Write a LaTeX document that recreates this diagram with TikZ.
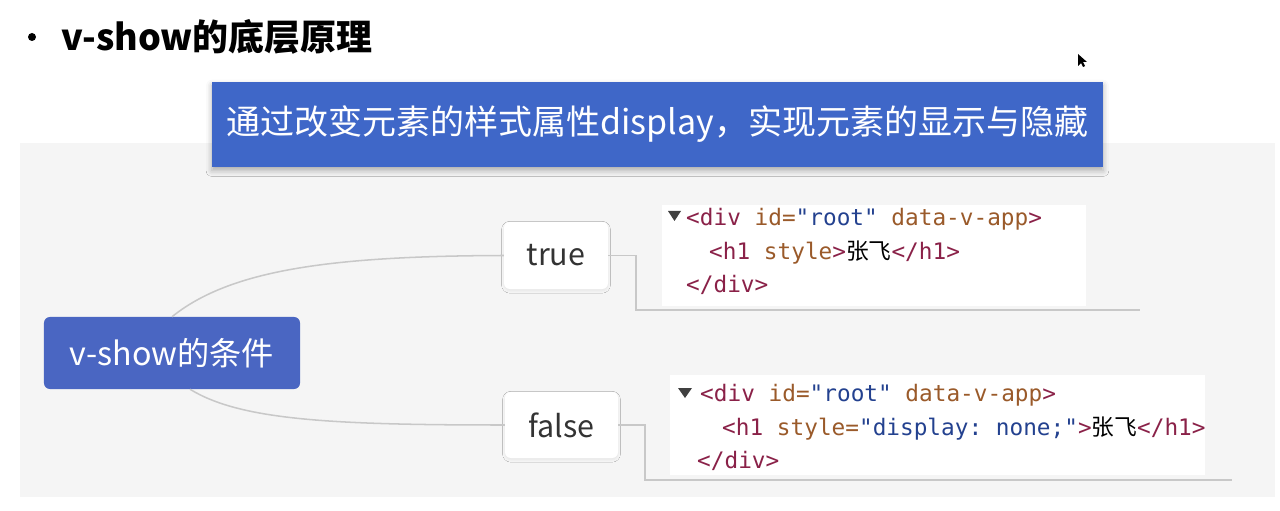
\documentclass[tikz,border=0pt]{standalone}
\usepackage{xcolor}
\usepackage{fontspec}
\setmainfont{Noto Sans CJK SC}
\newfontfamily\hanfont{Noto Sans CJK SC}
\newfontfamily\codefont{DejaVu Sans Mono}
\usetikzlibrary{shadows.blur}
\definecolor{panel}{HTML}{F5F5F5}
\definecolor{bandc}{HTML}{3F67C8}
\definecolor{nodec}{HTML}{4A66C2}
\definecolor{linkc}{HTML}{C8C8C8}
\definecolor{inkc}{HTML}{333333}
\definecolor{tagc}{HTML}{8A2148}
\definecolor{attrc}{HTML}{9A5A2A}
\definecolor{valc}{HTML}{23418F}
\newcommand{\tagtxt}[1]{\textcolor{tagc}{#1}}
\newcommand{\attrtxt}[1]{\textcolor{attrc}{#1}}
\newcommand{\valtxt}[1]{\textcolor{valc}{#1}}
\newcommand{\zf}{{\hanfont\textcolor{black}{张飞}}}

\begin{document}
\begin{tikzpicture}[x=0.03cm,y=-0.03cm,
  leaf/.style={fill=white,rounded corners=5pt,text=inkc,inner sep=0pt,
    font=\fontsize{26}{26}\selectfont,
    blur shadow={shadow xshift=0pt,shadow yshift=-1.5pt,shadow blur radius=2pt,shadow opacity=6}},
  codebox/.style={fill=white,inner sep=0pt},
  codetext/.style={inner sep=0pt,anchor=west,align=left,
    font=\codefont\frenchspacing\fontsize{19.4}{28.6}\selectfont},
  link/.style={draw=linkc,line width=1.3pt}]
  \useasboundingbox (0,0) rectangle (1280,511);
  % heading
  \fill[black] (32,37) circle (4);
  \node[anchor=west,inner sep=0pt,font=\bfseries\fontsize{30.7}{30.7}\selectfont] (head) at (61,37) {v-show的底层原理};
  % cursor
  \fill[black] (1078,54) -- (1078,66) -- (1081,63) -- (1083,67) -- (1085,66) -- (1083,62) -- (1087,62) -- cycle;
  % grey panel
  \fill[panel] (20,143) rectangle (1275,497);
  % banner
  \node[fill=bandc,text=white,minimum width=26.73cm,minimum height=2.55cm,inner sep=0pt,
    font=\fontsize{29}{29}\selectfont,
    blur shadow={shadow xshift=0pt,shadow yshift=-3pt,shadow blur radius=5pt,shadow opacity=30}]
    (band) at (657.5,124.5) {通过改变元素的样式属性display，实现元素的显示与隐藏};
  % mind map
  \node[fill=nodec,text=white,rounded corners=5pt,minimum width=7.68cm,minimum height=2.16cm,
    inner sep=0pt,font=\fontsize{27.5}{27.5}\selectfont] (cond) at (172,353) {v-show的条件};
  \node[leaf,minimum width=3.12cm,minimum height=2.01cm] (yes) at (556,255.5) {true};
  \node[leaf,minimum width=3.39cm,minimum height=1.98cm] (no) at (561.5,425) {false};
  \coordinate (yescorner) at (636,310);
  \coordinate (yesend) at (1140,310);
  \coordinate (nocorner) at (645,480);
  \coordinate (noend) at (1232,480);
  \draw[link] (cond.north) .. controls (230,270) and (330,256) .. (yes.west);
  \draw[link] ([xshift=0.54cm]cond.south) .. controls (240,420) and (330,425) .. (no.west);
  \draw[link] (yes.east) -| (yescorner) -- (yesend);
  \draw[link] (no.east) -| (nocorner) -- (noend);
  % devtools snippets
  \node[codebox,minimum width=12.72cm,minimum height=3.03cm] (shown) at (874,255.5) {};
  \fill[black!75] (668,211) -- (681,211) -- (674.5,221) -- cycle;
  \node[codetext] (showntxt) at (686,251.5)
    {\tagtxt{<div} \attrtxt{id=}\valtxt{"root"} \attrtxt{data-v-app}\tagtxt{>}\\
     \hspace{0.69cm}\tagtxt{<h1} \attrtxt{style}\tagtxt{>}\zf\tagtxt{</h1>}\\
     \tagtxt{</div>}};
  \node[codebox,minimum width=16.05cm,minimum height=3.0cm] (hidden) at (937.5,425) {};
  \fill[black!75] (678,388) -- (692,388) -- (685,398) -- cycle;
  \node[codetext] (hiddentxt) at (697,427.5)
    {\hspace{0.09cm}\tagtxt{<div} \attrtxt{id=}\valtxt{"root"} \attrtxt{data-v-app}\tagtxt{>}\\
     \hspace{0.75cm}\tagtxt{<h1} \attrtxt{style=}\valtxt{"display: none;"}\tagtxt{>}\zf\tagtxt{</h1>}\\
     \tagtxt{</div>}};
\end{tikzpicture}
\end{document}
